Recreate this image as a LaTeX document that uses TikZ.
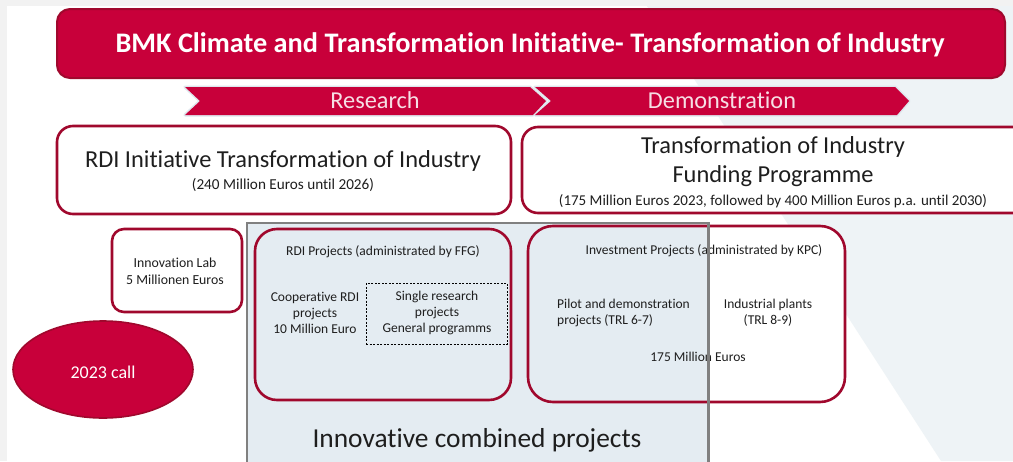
\documentclass[tikz,border=0pt]{standalone}
\usepackage{fontspec}
\setmainfont{Carlito}[Ligatures={NoCommon}]
\usetikzlibrary{shapes.geometric}
\definecolor{crimson}{RGB}{200,0,58}
\definecolor{wine}{RGB}{160,8,45}
\definecolor{panel}{RGB}{228,236,242}
\definecolor{slate}{RGB}{238,243,246}
\definecolor{greyedge}{RGB}{128,128,128}
\definecolor{ink}{RGB}{30,30,30}
\definecolor{pale}{RGB}{242,242,242}
\definecolor{blush}{RGB}{246,222,228}
\definecolor{glow}{RGB}{222,230,237}

\begin{document}
\begin{tikzpicture}[x=1pt,y=-1pt,
  redbox/.style={draw=wine, line width=2.6pt, rectangle, inner sep=0pt},
  label/.style={text=ink, inner sep=0pt, align=center},
  small/.style={label, font={\fontsize{13.5}{16}\selectfont}},
  chevron/.style={fill=crimson},
  chevtext/.style={text=blush, inner sep=0pt, font={\fontsize{24.3}{28}\selectfont}},
]
\useasboundingbox (0,0) rectangle (1013,461);
\begin{scope}
\clip (0,0) rectangle (1013,461);

% page background
\fill[white] (0,0) rectangle (1013,461);
\fill[slate] (643,0) -- (1013,0) -- (1013,461) -- (941,461) -- cycle;
\fill[pale] (0,0) rectangle (1013,6);
\fill[pale] (0,0) rectangle (7,461);

% title banner
\node[draw=wine, fill=crimson, line width=2pt, rounded corners=13pt,
      minimum width=948pt, minimum height=69pt, inner sep=0pt] (title) at (531,43.5) {};
\node[text=white, inner sep=0pt, font={\bfseries\fontsize{28.3}{33}\selectfont}] (titletext) at (530,45)
  {BMK Climate and Transformation Initiative- Transformation of Industry};

% phase chevrons
\draw[glow, line width=3pt, line join=round] (185,87) -- (530,87) -- (546,101) -- (533,115) -- (185,115) -- (200,101) -- cycle;
\draw[glow, line width=3pt, line join=round] (535,87) -- (895,87) -- (909,101) -- (897,115) -- (535,115) -- (551,101) -- cycle;
\fill[chevron] (185,87) -- (530,87) -- (546,101) -- (533,115) -- (185,115) -- (200,101) -- cycle;
\fill[chevron] (535,87) -- (895,87) -- (909,101) -- (897,115) -- (535,115) -- (551,101) -- cycle;
\node[chevtext] (research) at (375,100) {Research};
\node[chevtext] (demo) at (722,100) {Demonstration};

% programme boxes
\node[redbox, fill=white, rounded corners=16pt, minimum width=454pt, minimum height=88pt] (rdi) at (284,170) {};
\node[label, font={\fontsize{24.4}{29}\selectfont}] (rditext) at (283,161) {RDI Initiative Transformation of Industry};
\node[label, font={\fontsize{15.2}{18}\selectfont}] (rdisub) at (283,185) {(240 Million Euros until 2026)};

\node[redbox, fill=white, rounded corners=16pt, minimum width=520pt, minimum height=86pt] (fund) at (782,170) {};
\node[label, font={\fontsize{24.4}{29}\selectfont}] (fundtext) at (773,162)
  {Transformation of Industry\\Funding Programme};
\node[label, font={\fontsize{15}{18}\selectfont}] (fundsub) at (773,201)
  {(175 Million Euros 2023, followed by 400 Million Euros p.a. until 2030)};

% innovation lab and call
\node[redbox, fill=white, rounded corners=12pt, minimum width=130pt, minimum height=83pt] (lab) at (177,270.5) {};
\node[small, font={\fontsize{13.8}{17}\selectfont}] (labtext) at (175,271) {Innovation Lab\\5 Millionen Euros};
\node[ellipse, draw=wine, fill=crimson, line width=1.6pt, minimum width=180pt, minimum height=97pt, inner sep=0pt] (call) at (103,369.5) {};
\node[text=white, inner sep=0pt, font={\fontsize{18}{21}\selectfont}] (calltext) at (103,372) {2023 call};

% investment projects (white interior)
\node[rectangle, fill=white, rounded corners=25pt, minimum width=317pt, minimum height=176pt, inner sep=0pt] (investfill) at (686.5,314) {};

% combined projects panel
\node[rectangle, fill=panel, minimum width=461pt, minimum height=250pt, inner sep=0pt] (combined) at (477.5,348) {};

% project boxes
\node[redbox, rounded corners=22pt, minimum width=256pt, minimum height=171pt] (rdiproj) at (383,314.5) {};
\node[redbox, rounded corners=25pt, minimum width=317pt, minimum height=176pt] (invest) at (686.5,314) {};
\node[draw=black, line width=0.8pt, dash pattern=on 2pt off 1.5pt, minimum width=141pt, minimum height=61pt, inner sep=0pt] (single) at (436.5,313.5) {};

\node[small] (rdiprojtext) at (383,252) {RDI Projects (administrated by FFG)};
\node[small] (coop) at (315,313) {Cooperative RDI\\projects\\10 Million Euro};
\node[small] (singletext) at (437,313) {Single research\\projects\\General programms};

\node[small] (investtext) at (704,251) {Investment Projects (administrated by KPC)};
\node[small, align=left, anchor=west] (pilot) at (557,313) {Pilot and demonstration\\projects (TRL 6-7)};
\node[small] (plants) at (768,313) {Industrial plants\\(TRL 8-9)};
\node[small] (invsum) at (698,357) {175 Million Euros};

\node[label, font={\fontsize{27.4}{32}\selectfont}] (combtext) at (477,440) {Innovative combined projects};

% panel outline drawn over the overlapping boxes
\draw[greyedge, line width=2.6pt] (combined.south west) -- (combined.north west) -- (combined.north east) -- (combined.south east);
\end{scope}
\end{tikzpicture}
\end{document}
